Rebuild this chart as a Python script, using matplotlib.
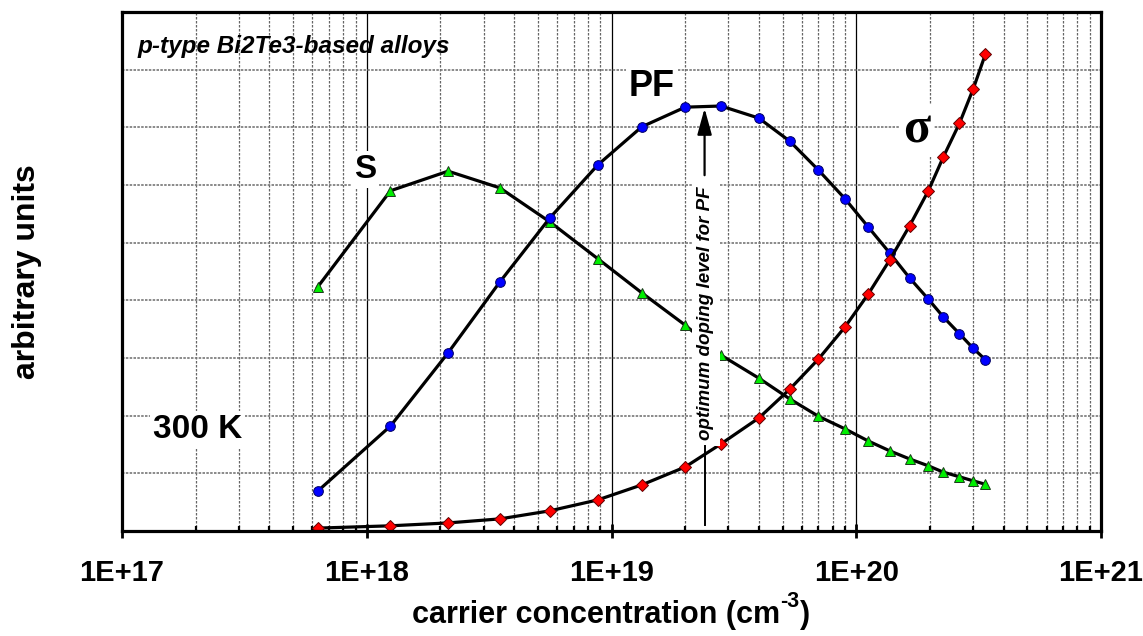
import numpy as np
import matplotlib
matplotlib.use("Agg")
import matplotlib.pyplot as plt
from matplotlib.ticker import FixedLocator, FuncFormatter, LogLocator

plt.rcParams['font.family'] = ['Liberation Sans', 'DejaVu Sans']

###################################
# data
###################################
# carrier concentration (cm^-3), shared by all three curves
conc = [6.3e17, 1.25e18, 2.15e18, 3.5e18, 5.6e18, 8.8e18, 1.33e19, 2.0e19,
        2.8e19, 4.0e19, 5.35e19, 7.0e19, 9.0e19, 1.12e20, 1.37e20, 1.65e20,
        1.97e20, 2.27e20, 2.64e20, 3.0e20, 3.37e20]

# Seebeck coefficient S (arb. units)
S_vals = [4.23, 5.90, 6.24, 5.95, 5.36, 4.72, 4.13, 3.57, 3.05, 2.65, 2.29,
          1.99, 1.77, 1.56, 1.39, 1.25, 1.13, 1.02, 0.94, 0.87, 0.81]

# power factor PF (arb. units)
PF_vals = [0.69, 1.82, 3.09, 4.32, 5.43, 6.35, 7.01, 7.35, 7.37, 7.16, 6.76,
           6.26, 5.76, 5.27, 4.82, 4.39, 4.02, 3.71, 3.42, 3.17, 2.97]

# electrical conductivity sigma (arb. units)
sig_vals = [0.05, 0.09, 0.14, 0.21, 0.35, 0.54, 0.80, 1.11, 1.51, 1.96, 2.46,
            2.98, 3.54, 4.11, 4.70, 5.29, 5.90, 6.49, 7.07, 7.66, 8.27]

decades = [1e17, 1e18, 1e19, 1e20, 1e21]
y_grid = [0, 1, 2, 3, 4, 5, 6, 7, 8, 9]

# optimum doping marker
opt_doping = 2.4e19
arrow_top, arrow_bottom = 7.33, 6.17
line_top, line_bottom = 1.47, 0.10

###################################
# figure
###################################
fig = plt.figure(figsize=(11.43, 6.36), dpi=100)
ax = fig.add_axes([0.1067, 0.1651, 0.8566, 0.8160])

ax.set_xscale('log')
ax.set_xlim(decades[0], decades[-1])
ax.set_ylim(y_grid[0], y_grid[-1])

# grid: solid decades, dashed minors, dotted horizontals
ax.xaxis.set_major_locator(FixedLocator(decades))
ax.xaxis.set_minor_locator(LogLocator(base=10, subs=np.arange(2, 10), numticks=20))
ax.xaxis.set_major_formatter(FuncFormatter(lambda v, p: "1E+%d" % round(np.log10(v))))
ax.xaxis.set_minor_formatter(FuncFormatter(lambda v, p: ""))
ax.set_yticks(y_grid)
ax.set_yticklabels([])

ax.grid(which='major', axis='x', color='black', lw=0.9, ls='-', zorder=0)
ax.grid(which='minor', axis='x', color='#666666', lw=0.9, ls=(0, (2, 1.2)), zorder=0)
ax.grid(which='major', axis='y', color='#777777', lw=1.2, ls=(0, (1.5, 0.8)), zorder=0)
ax.set_axisbelow(True)

ax.tick_params(axis='x', which='major', direction='inout', length=10, width=2,
               pad=15, labelsize=21)
ax.tick_params(axis='x', which='minor', direction='in', length=3.5, width=1.6)
ax.tick_params(axis='y', which='both', length=0)
for lab in ax.get_xticklabels():
    lab.set_fontweight('bold')

for sp in ax.spines.values():
    sp.set_linewidth(2.3)
    sp.set_zorder(10)

# curves
ax.plot(conc, S_vals, color='black', lw=2.3, marker='^', ms=7.5,
        mfc='#00ee00', mec='#1a3a1a', mew=0.7, zorder=4)
ax.plot(conc, PF_vals, color='black', lw=2.3, marker='o', ms=7,
        mfc='#0000ff', mec='#000060', mew=0.7, zorder=4)
ax.plot(conc, sig_vals, color='black', lw=2.3, marker='D', ms=6,
        mfc='#ff0000', mec='#600000', mew=0.7, zorder=4)

# optimum doping annotation
ax.annotate('', xy=(opt_doping, arrow_top), xytext=(opt_doping, arrow_bottom),
            arrowprops=dict(arrowstyle='-|>,head_length=0.8,head_width=0.22',
                            mutation_scale=20, color='black', lw=1.6,
                            shrinkA=0, shrinkB=0), zorder=6)
ax.plot([opt_doping, opt_doping], [line_top, line_bottom], color='black', lw=1.4, zorder=6)
ax.text(0.5965, 0.419, 'optimum doping level for PF', transform=ax.transAxes,
        rotation=90, ha='center', va='center', fontsize=13.5,
        fontweight='bold', fontstyle='italic', zorder=5,
        bbox=dict(facecolor='white', edgecolor='none', pad=4))

white = dict(facecolor='white', edgecolor='none', pad=2)
ax.text(0.0163, 0.921, 'p-type Bi2Te3-based alloys', transform=ax.transAxes,
        ha='left', va='baseline', fontsize=17.5, fontweight='bold',
        fontstyle='italic', zorder=5)
ax.text(0.248, 0.680, 'S', transform=ax.transAxes, ha='center', va='baseline',
        fontsize=24, fontweight='bold', zorder=5, bbox=white)
ax.text(0.541, 0.838, 'PF', transform=ax.transAxes, ha='center', va='baseline',
        fontsize=26, fontweight='bold', zorder=5, bbox=white)
ax.text(0.812, 0.748, '\u03c3', transform=ax.transAxes, ha='center', va='baseline',
        fontsize=36, fontweight='bold', family=['Liberation Serif', 'DejaVu Serif'],
        zorder=5, bbox=white)
ax.text(0.0317, 0.179, '300 K', transform=ax.transAxes, ha='left', va='baseline',
        fontsize=24, fontweight='bold', zorder=5, bbox=white)

# axis titles; x title built from three pieces so the superscript keeps a hyphen
renderer = fig.canvas.get_renderer()
base_y = 1 - 623 / 636
parts = [('carrier concentration (cm', 22, 0), ('-3', 15.5, 0.025), (')', 22, 0)]
pieces = []
for txt, fs, dy in parts:
    pieces.append(fig.text(0, base_y + dy, txt, ha='left', va='baseline',
                           fontsize=fs, fontweight='bold'))
widths = [p.get_window_extent(renderer).width / fig.bbox.width for p in pieces]
x0 = 611 / 1143 - sum(widths) / 2
for p, w in zip(pieces, widths):
    p.set_x(x0)
    x0 += w

fig.text(27 / 1143, 1 - 271.5 / 636, 'arbitrary units', rotation=90,
         ha='center', va='center', fontsize=23, fontweight='bold')

fig.savefig('out.png', dpi=100)
